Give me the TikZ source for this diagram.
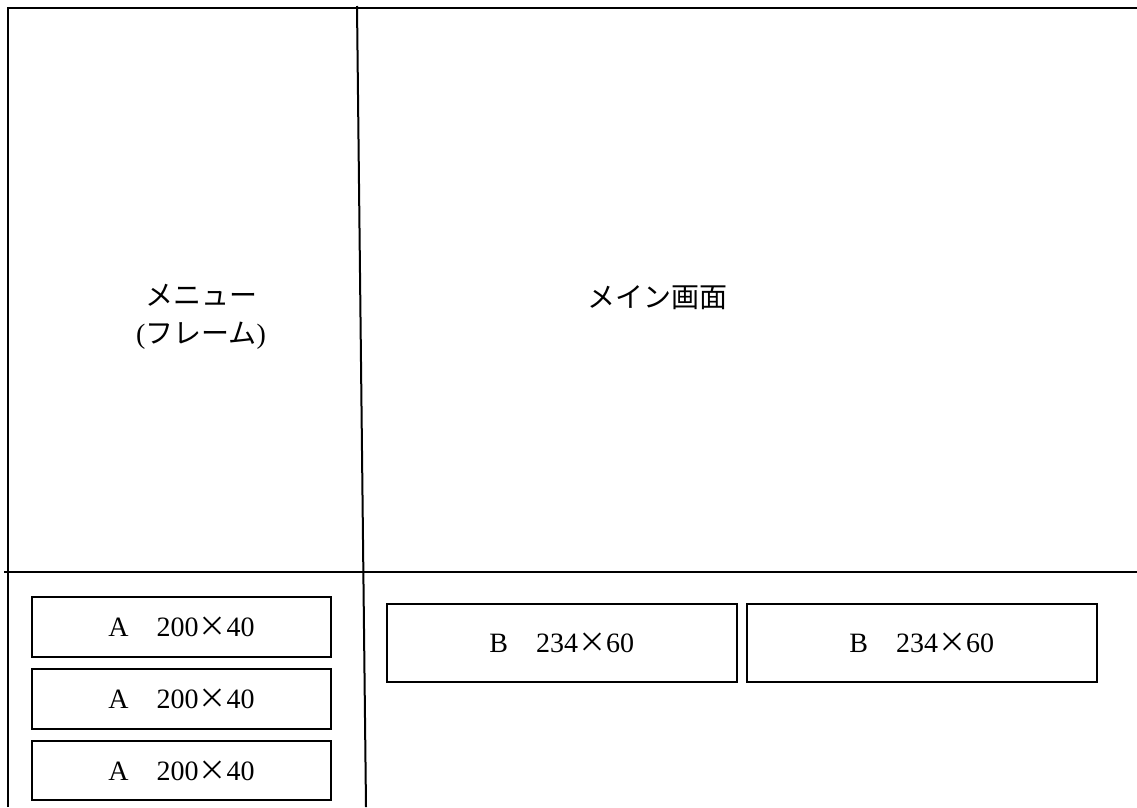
\documentclass[tikz,border=0pt]{standalone}
\usepackage{fontspec}
\setmainfont{Liberation Serif}
\newfontfamily\cjk{Noto Sans CJK JP}
\begin{document}
\begin{tikzpicture}[x=1pt,y=-1pt,
  frame/.style={draw, line width=2pt},
  box/.style={draw, line width=2pt, inner sep=0pt, font=\fontsize{28}{38}\selectfont},
  abox/.style={box, minimum width=299pt, minimum height=59.5pt},
  bbox/.style={box, minimum width=350pt, minimum height=78pt},
  lbl/.style={font=\fontsize{28}{38}\selectfont, align=center, inner sep=0pt}]
\useasboundingbox (0,0) rectangle (1137,807);
% frame lines
\coordinate (tl) at (8,8);
\coordinate (tr) at (1137,8);
\coordinate (bl) at (8,807);
\coordinate (ml) at (4,572);
\coordinate (mr) at (1137,572);
\coordinate (dt) at (357,6);
\coordinate (db) at (366,807);
\draw[frame] (bl) -- (tl) -- (tr);
\draw[frame] (ml) -- (mr);
\draw[frame] (dt) -- (db);
% labels
\node[lbl] (menu) at (201,317) {{\cjk メニュー}\\({\cjk フレーム})};
\node[lbl] (main) at (657,298) {\cjk メイン画面};
% A boxes
\node[abox] (a1) at (181.5,627.2) {A{\cjk 　}200{\cjk ×}40};
\node[abox] (a2) at (181.5,699.2) {A{\cjk 　}200{\cjk ×}40};
\node[abox] (a3) at (181.5,770.7) {A{\cjk 　}200{\cjk ×}40};
% B boxes
\node[bbox] (b1) at (561.8,643) {B{\cjk 　}234{\cjk ×}60};
\node[bbox] (b2) at (921.8,643) {B{\cjk 　}234{\cjk ×}60};
\end{tikzpicture}
\end{document}
